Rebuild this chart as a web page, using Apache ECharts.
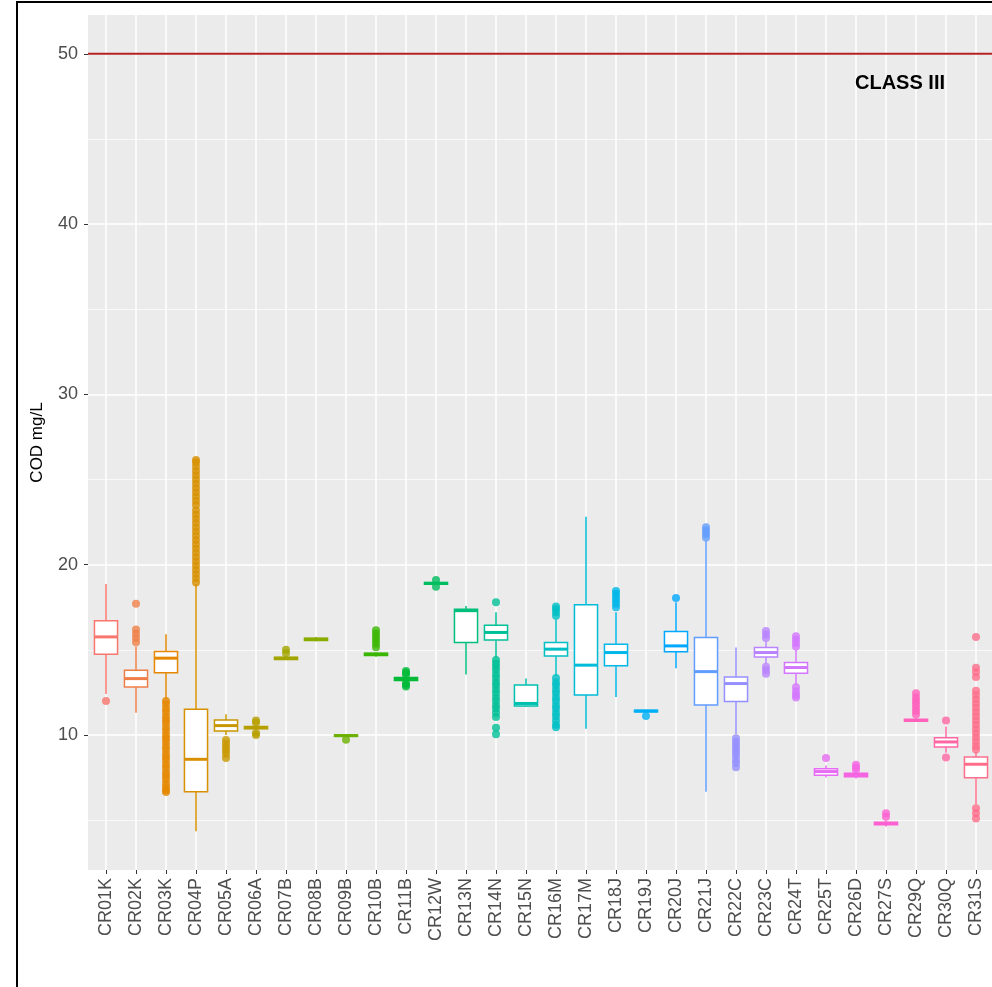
<!DOCTYPE html>
<html><head><meta charset="utf-8">
<script src="https://cdn.jsdelivr.net/npm/echarts@6/dist/echarts.min.js"></script>
<style>html,body{margin:0;padding:0;background:#fff}#c{width:992px;height:987px}</style>
</head><body><div id="c"></div>
<script>
const categories = ['CR01K','CR02K','CR03K','CR04P','CR05A','CR06A','CR07B','CR08B','CR09B','CR10B','CR11B','CR12W','CR13N','CR14N','CR15N','CR16M','CR17M','CR18J','CR19J','CR20J','CR21J','CR22C','CR23C','CR24T','CR25T','CR26D','CR27S','CR29Q','CR30Q','CR31S'];
const whiskerLow  = [12.4, 11.3, 12.1, 4.35, 10.0, 10.28, 14.4, 15.5, 9.88, 14.6, 13.1, 18.8, 13.55, 14.55, 11.65, 13.47, 10.37, 12.23, 11.3, 13.92, 6.67, 10.04, 14.2, 12.95, 7.5, 7.45, 4.62, 10.78, 8.95, 5.92];
const q1          = [14.74, 12.82, 13.65, 6.67, 10.24, 10.36, 14.43, 15.55, 9.92, 14.66, 13.2, 18.85, 15.43, 15.57, 11.7, 14.64, 12.35, 14.06, 11.36, 14.88, 11.76, 11.96, 14.58, 13.63, 7.63, 7.55, 4.72, 10.8, 9.29, 7.49];
const median      = [15.76, 13.31, 14.51, 8.57, 10.55, 10.43, 14.5, 15.62, 9.96, 14.74, 13.28, 18.9, 17.3, 16.02, 11.85, 15.04, 14.1, 14.84, 11.4, 15.23, 13.72, 13.02, 14.84, 13.96, 7.85, 7.65, 4.8, 10.85, 9.59, 8.28];
const q3          = [16.7, 13.8, 14.9, 11.51, 10.88, 10.5, 14.57, 15.68, 10.0, 14.8, 13.38, 18.95, 17.38, 16.44, 12.94, 15.43, 17.64, 15.33, 11.45, 16.07, 15.72, 13.41, 15.13, 14.25, 8.02, 7.75, 4.88, 10.92, 9.84, 8.71];
const whiskerHigh = [18.86, 15.2, 15.92, 18.86, 11.22, 10.58, 14.65, 15.75, 10.02, 14.85, 13.45, 19.0, 17.58, 17.2, 13.31, 16.8, 22.82, 17.2, 11.48, 17.8, 21.4, 15.13, 15.5, 15.0, 8.2, 7.85, 4.98, 11.0, 10.5, 9.0];
const outliers = [
  [12.0],
  [15.45, 15.7, 15.95, 16.2, 17.7],
  [12.0, 11.8, 11.55, 11.35, 11.1, 10.9, 10.7, 10.45, 10.25, 10.0, 9.8, 9.6, 9.35, 9.15, 8.9, 8.7, 8.5, 8.25, 8.05, 7.8, 7.6, 7.4, 7.15, 6.95, 6.75, 6.65],
  [18.95, 19.2, 19.45, 19.7, 19.95, 20.2, 20.45, 20.7, 20.95, 21.2, 21.45, 21.7, 21.95, 22.2, 22.45, 22.7, 22.95, 23.2, 23.5, 23.75, 24.0, 24.25, 24.5, 24.75, 25.0, 25.25, 25.5, 25.75, 26.0, 26.15],
  [9.7, 9.5, 9.3, 9.1, 8.9, 8.65],
  [10.0, 10.12, 10.72, 10.85],
  [14.8, 15.0],
  [],
  [9.72],
  [15.15, 15.35, 15.55, 15.75, 15.95, 16.15],
  [12.85, 12.95, 13.05, 13.55, 13.65, 13.75],
  [18.7, 19.1],
  [],
  [17.8, 14.4, 14.2, 14.0, 13.8, 13.55, 13.35, 13.1, 12.9, 12.65, 12.45, 12.2, 12.0, 11.75, 11.55, 11.3, 11.05, 10.43, 10.04],
  [],
  [17.0, 17.2, 17.4, 17.55, 13.35, 13.1, 12.9, 12.65, 12.45, 12.2, 12.0, 11.75, 11.55, 11.3, 11.1, 10.85, 10.6, 10.45],
  [],
  [17.5, 17.7, 17.9, 18.1, 18.3, 18.45],
  [11.12],
  [18.05],
  [21.6, 21.8, 22.0, 22.2],
  [9.8, 9.6, 9.4, 9.2, 9.0, 8.8, 8.55, 8.35, 8.1],
  [15.7, 15.9, 16.1, 14.0, 13.8, 13.6],
  [15.2, 15.4, 15.6, 15.8, 12.8, 12.55, 12.35, 12.2],
  [8.65],
  [7.95, 8.1, 8.25],
  [5.2, 5.4],
  [11.2, 11.4, 11.6, 11.8, 12.0, 12.2, 12.45],
  [10.85, 8.67],
  [15.75, 13.95, 13.7, 13.4, 12.6, 12.35, 12.1, 11.85, 11.6, 11.35, 11.1, 10.85, 10.6, 10.35, 10.1, 9.85, 9.6, 9.35, 9.15, 5.7, 5.4, 5.1]
];
const yTicks = [10, 20, 30, 40, 50];
const yMin = 2.07, yMax = 52.28;
const refLevel = 50;
const refLabel = 'CLASS III';
const yTitle = 'COD mg/L';

// ggplot2 default hue palette (HCL, l=65, c=100)
function hcl(h, c, l) {
  const hr = h * Math.PI / 180;
  const U = c * Math.cos(hr), V = c * Math.sin(hr);
  const Xn = 95.047, Yn = 100, Zn = 108.883;
  const Y = Yn * (l > 7.999592 ? Math.pow((l + 16) / 116, 3) : l / 903.3);
  const t = Xn + Yn + Zn, x = Xn / t, y = Yn / t;
  const uN = 2 * x / (6 * y - x + 1.5), vN = 4.5 * y / (6 * y - x + 1.5);
  const u = U / (13 * l) + uN, v = V / (13 * l) + vN;
  const X = 9 * Y * u / (4 * v);
  const Z = -X / 3 - 5 * Y + 3 * Y / v;
  const gam = s => s <= 0.0031308 ? 12.92 * s : 1.055 * Math.pow(s, 1 / 2.4) - 0.055;
  const R = gam((3.240479 * X - 1.537150 * Y - 0.498535 * Z) / Yn);
  const G = gam((-0.969256 * X + 1.875992 * Y + 0.041556 * Z) / Yn);
  const B = gam((0.055648 * X - 0.204043 * Y + 1.057311 * Z) / Yn);
  const hx = s => ('0' + Math.round(Math.max(0, Math.min(1, s)) * 255).toString(16)).slice(-2);
  return '#' + hx(R) + hx(G) + hx(B);
}
const n = categories.length;
const colors = categories.map((_, i) => hcl(15 + 360 * i / n, 100, 65));

const boxData = categories.map((_, i) => [i, whiskerLow[i], q1[i], median[i], q3[i], whiskerHigh[i]]);
const outlierData = [];
outliers.forEach((arr, i) => arr.forEach(v => outlierData.push({ value: [i, v], itemStyle: { color: colors[i] } })));

const chart = echarts.init(document.getElementById('c'));
chart.setOption({
  animation: false,
  backgroundColor: '#fff',
  grid: [
    { left: 88, top: 15, width: 905, height: 855, show: true, backgroundColor: '#EBEBEB', borderWidth: 0 },
    { left: 91, top: 15, width: 900, height: 855 }
  ],
  xAxis: [
    { gridIndex: 0, type: 'value', min: 0, max: 1, show: false },
    { gridIndex: 1, type: 'category', data: categories, boundaryGap: true,
      axisLine: { show: false },
      axisTick: { show: true, alignWithLabel: true, interval: 0, length: 4, lineStyle: { color: '#333', width: 1 } },
      axisLabel: { rotate: 90, interval: 0, margin: 8, color: '#4D4D4D', fontSize: 18, fontFamily: 'Liberation Sans, Arial, sans-serif' },
      splitLine: { show: true, alignWithLabel: true, interval: 0, lineStyle: { color: '#fff', width: 1.5 } }
    }
  ],
  yAxis: [
    { gridIndex: 0, type: 'value', min: yMin, max: yMax,
      axisLine: { show: false },
      axisTick: { show: true, length: 4, customValues: yTicks, lineStyle: { color: '#333', width: 1 } },
      axisLabel: { customValues: yTicks, margin: 10, color: '#4D4D4D', fontSize: 18, fontFamily: 'Liberation Sans, Arial, sans-serif' },
      splitLine: { show: true, lineStyle: { color: '#fff', width: 1.5 } },
      minorTick: { show: false, splitNumber: 2 },
      minorSplitLine: { show: true, lineStyle: { color: '#fff', width: 0.7 } },
      name: yTitle, nameLocation: 'middle', nameRotate: 90, nameGap: 42,
      nameTextStyle: { color: '#000', fontSize: 17, fontFamily: 'Liberation Sans, Arial, sans-serif' }
    },
    { gridIndex: 1, type: 'value', min: yMin, max: yMax, show: false, splitLine: { show: false } }
  ],
  graphic: [
    { type: 'rect', shape: { x: 17, y: 2, width: 1100, height: 1100 }, style: { fill: 'none', stroke: '#000', lineWidth: 2 }, z: 100 },
    { type: 'text', x: 855, y: 73, style: { text: refLabel, fill: '#000', font: 'bold 20px "Liberation Sans", Arial, sans-serif' }, z: 100 }
  ],
  series: [
    { type: 'scatter', xAxisIndex: 1, yAxisIndex: 1, data: outlierData, symbol: 'circle', symbolSize: 8, z: 2, silent: true },
    { type: 'custom', xAxisIndex: 1, yAxisIndex: 1, data: boxData, z: 3, silent: true,
      encode: { x: 0, y: [1, 2, 3, 4, 5] },
      renderItem: function (params, api) {
        const i = api.value(0);
        const c = colors[i];
        const x = api.coord([i, 0])[0];
        const bw = api.size([1, 0])[0] * 0.77;
        const yL = api.coord([i, api.value(1)])[1];
        const y1 = api.coord([i, api.value(2)])[1];
        const ym = api.coord([i, api.value(3)])[1];
        const y3 = api.coord([i, api.value(4)])[1];
        const yH = api.coord([i, api.value(5)])[1];
        return { type: 'group', children: [
          { type: 'line', shape: { x1: x, y1: yH, x2: x, y2: y3 }, style: { stroke: c, lineWidth: 1.5 } },
          { type: 'line', shape: { x1: x, y1: y1, x2: x, y2: yL }, style: { stroke: c, lineWidth: 1.5 } },
          { type: 'rect', shape: { x: x - bw / 2, y: y3, width: bw, height: y1 - y3 }, style: { fill: '#fff', stroke: c, lineWidth: 1.5 } },
          { type: 'line', shape: { x1: x - bw / 2, y1: ym, x2: x + bw / 2, y2: ym }, style: { stroke: c, lineWidth: 3 } }
        ] };
      }
    },
    { type: 'line', xAxisIndex: 0, yAxisIndex: 0, data: [[0, refLevel], [1, refLevel]], symbol: 'none', silent: true, z: 4,
      lineStyle: { color: '#B22222', width: 2 } }
  ]
});
</script></body></html>
